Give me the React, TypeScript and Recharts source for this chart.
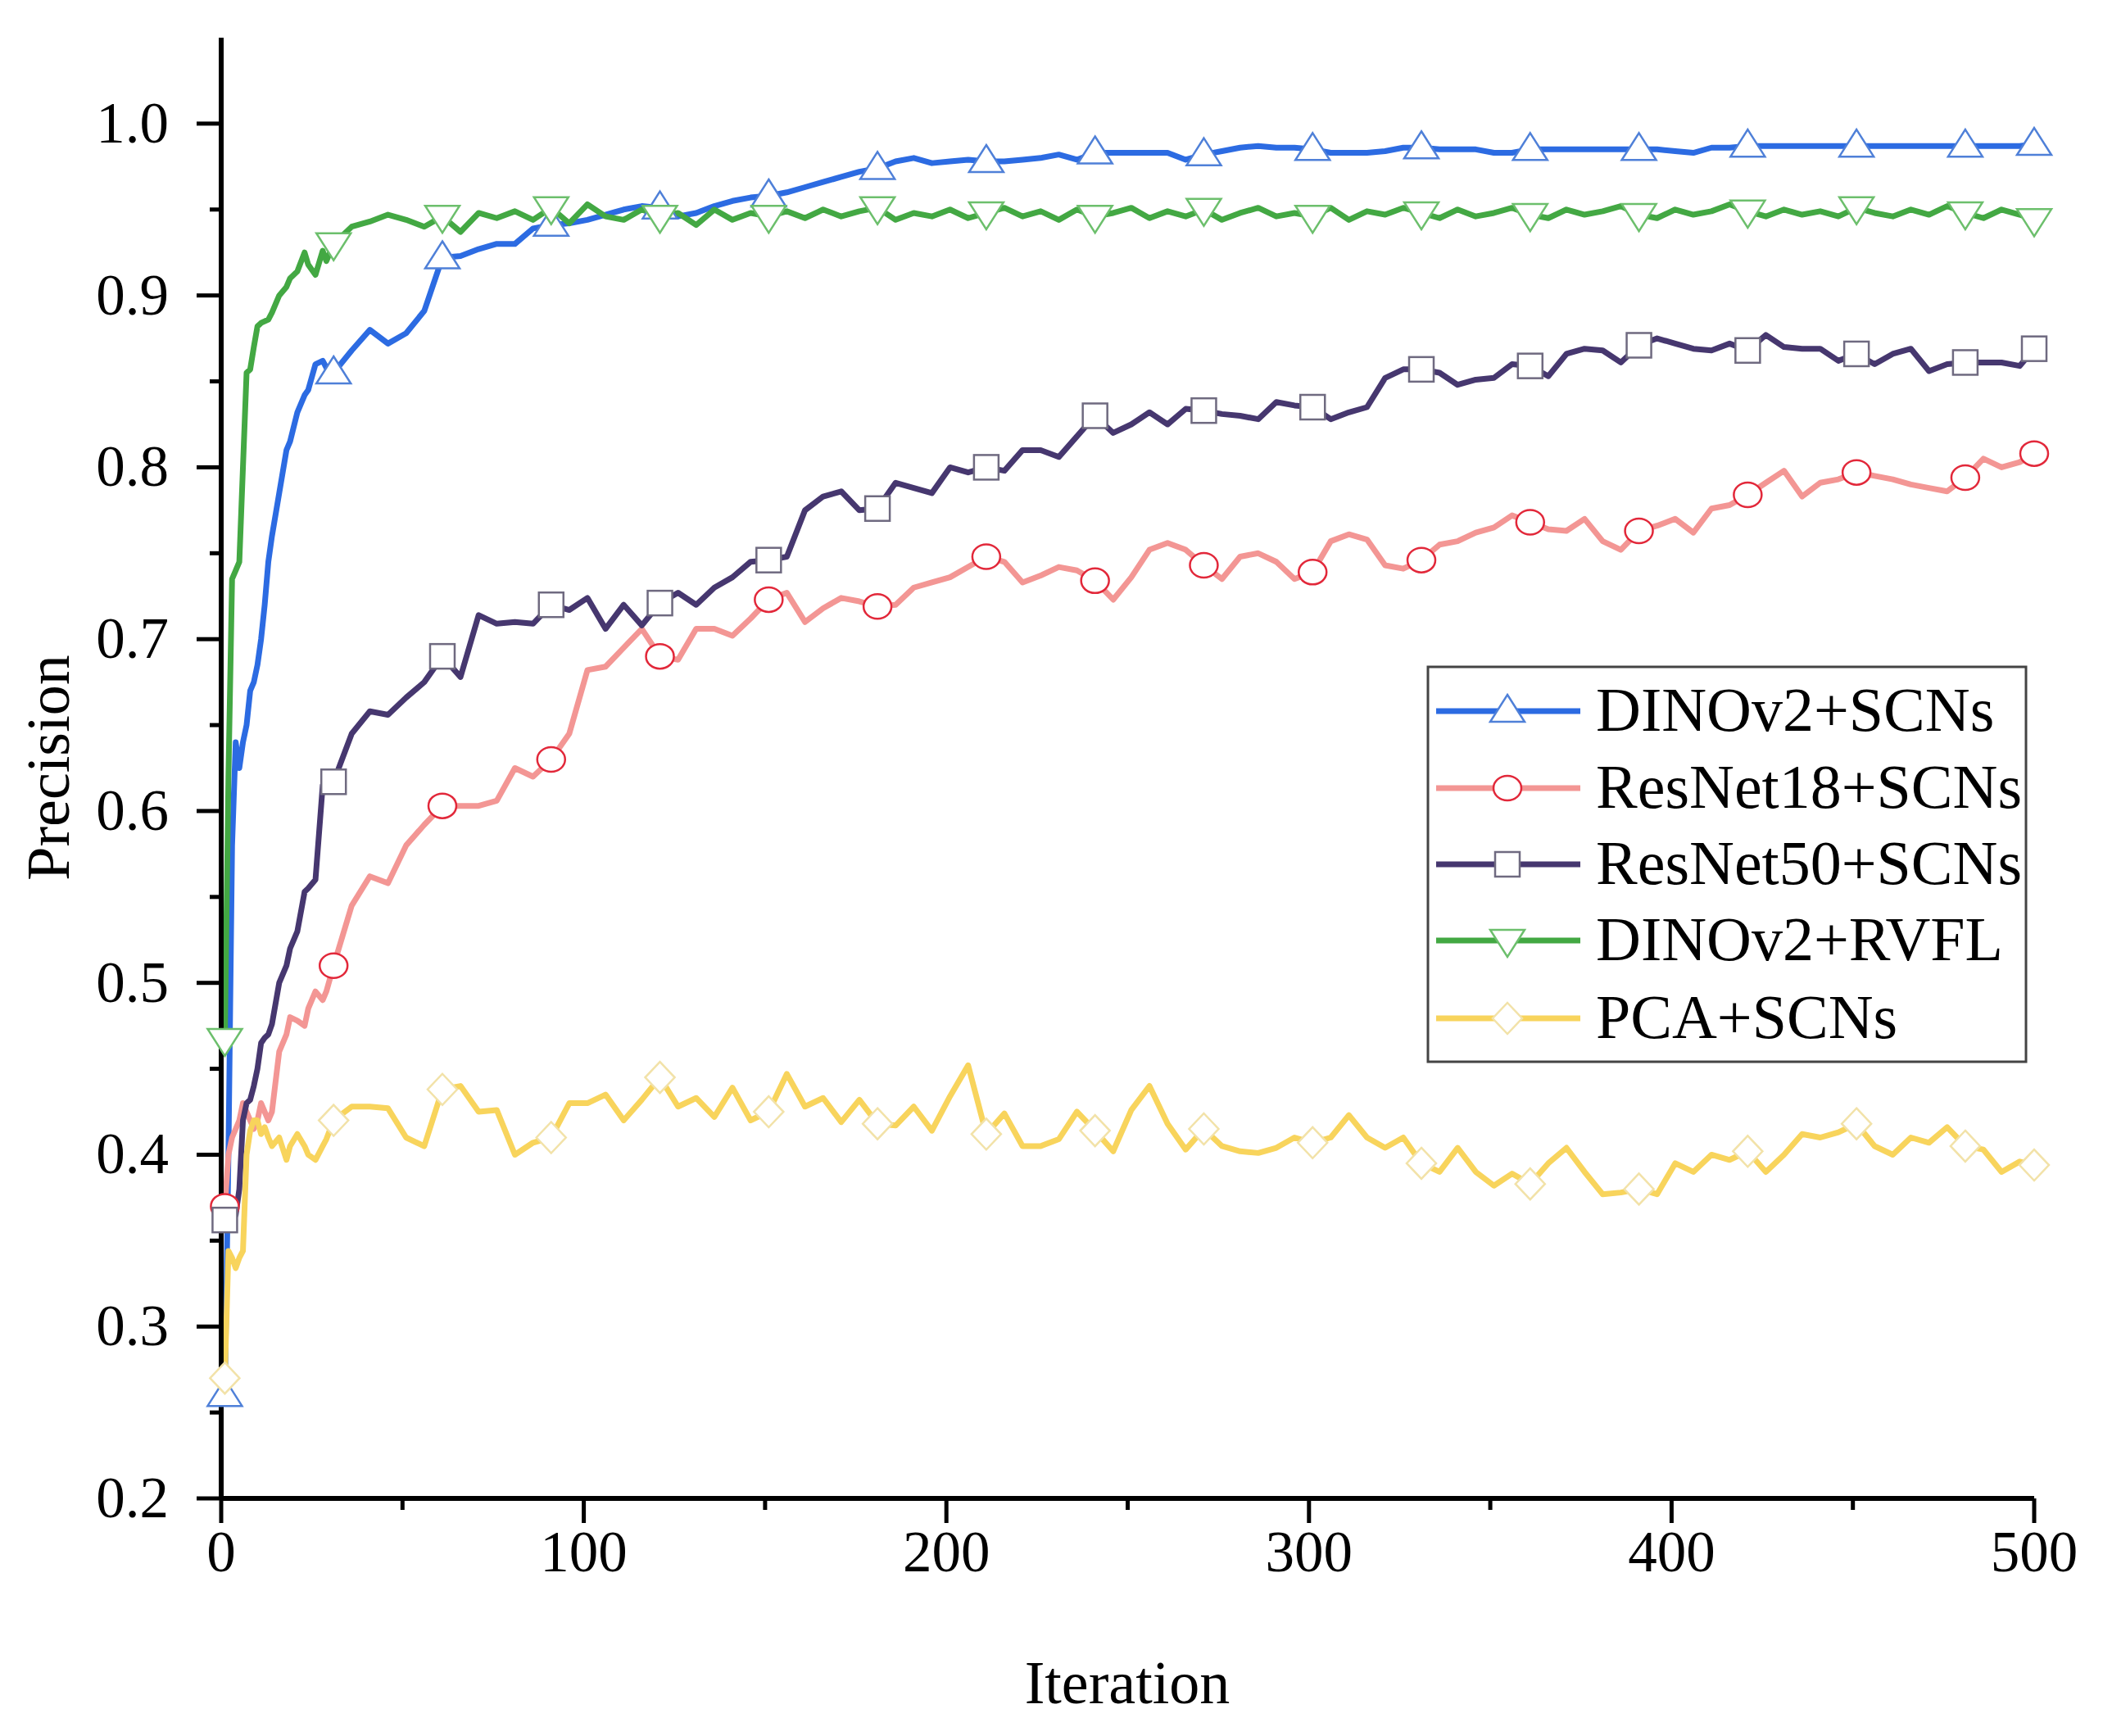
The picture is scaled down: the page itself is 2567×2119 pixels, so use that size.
import { LineChart, Line, XAxis, YAxis } from 'recharts'

const W = 2567
const H = 2119
const FONT = "'Liberation Serif', 'Times New Roman', serif"

// iteration grid (denser at the start where curves climb fast)
const iterations = [
  1, 2, 3, 4, 5, 6, 7, 8, 9, 10, 11, 12, 13, 14, 16, 18, 19, 21, 23, 24, 26, 28, 29,
  31, 36, 41, 46, 51, 56, 61, 66, 71, 76,
  81, 86, 91, 96, 101, 106, 111, 116, 121, 126,
  131, 136, 141, 146, 151, 156, 161, 166, 171, 176,
  181, 186, 191, 196, 201, 206, 211, 216, 221, 226,
  231, 236, 241, 246, 251, 256, 261, 266, 271, 276,
  281, 286, 291, 296, 301, 306, 311, 316, 321, 326,
  331, 336, 341, 346, 351, 356, 361, 366, 371, 376,
  381, 386, 391, 396, 401, 406, 411, 416, 421, 426,
  431, 436, 441, 446, 451, 456, 461, 466, 471, 476,
  481, 486, 491, 496, 500,
]

const markerIters = [1, 31, 61, 91, 121, 151, 181, 211, 241, 271, 301, 331, 361, 391, 421, 451, 481, 500]

const dinoScns = [
  0.26, 0.40, 0.58, 0.64, 0.625, 0.64, 0.65, 0.67, 0.675, 0.685, 0.70, 0.72, 0.745, 0.76, 0.785, 0.81, 0.815, 0.832, 0.842, 0.845, 0.86, 0.862, 0.858,
  0.855, 0.868, 0.88, 0.872, 0.878, 0.891, 0.922, 0.923, 0.927, 0.93,
  0.93, 0.939, 0.941, 0.942, 0.944, 0.947, 0.95, 0.952, 0.951, 0.946,
  0.948, 0.952, 0.955, 0.957, 0.958, 0.96, 0.963, 0.966, 0.969, 0.972,
  0.974, 0.978, 0.98, 0.977, 0.978, 0.979, 0.978, 0.978, 0.979, 0.98,
  0.982, 0.979, 0.983, 0.983, 0.983, 0.983, 0.983, 0.979, 0.982, 0.984,
  0.986, 0.987, 0.986, 0.986, 0.985, 0.983, 0.983, 0.983, 0.984, 0.986,
  0.986, 0.985, 0.985, 0.985, 0.983, 0.983, 0.985, 0.985, 0.985, 0.985,
  0.985, 0.985, 0.985, 0.985, 0.984, 0.983, 0.986, 0.986, 0.987, 0.987,
  0.987, 0.987, 0.987, 0.987, 0.987, 0.987, 0.987, 0.987, 0.987, 0.987,
  0.987, 0.987, 0.987, 0.987, 0.988,
]

const resnet18 = [
  0.37, 0.40, 0.41, 0.415, 0.42, 0.43, 0.425, 0.42, 0.415, 0.42, 0.43, 0.425, 0.42, 0.425, 0.46, 0.47, 0.48, 0.478, 0.475, 0.485, 0.495, 0.49, 0.495,
  0.51, 0.545, 0.562, 0.558, 0.58, 0.592, 0.603, 0.603, 0.603, 0.606,
  0.625, 0.62, 0.63, 0.645, 0.682, 0.684, 0.695, 0.706, 0.69, 0.688,
  0.706, 0.706, 0.702, 0.712, 0.723, 0.727, 0.71, 0.718, 0.724, 0.722,
  0.719, 0.72, 0.73, 0.733, 0.736, 0.742, 0.748, 0.745, 0.733, 0.737,
  0.742, 0.74, 0.734, 0.723, 0.736, 0.752, 0.756, 0.752, 0.743, 0.735,
  0.748, 0.75, 0.745, 0.735, 0.739, 0.757, 0.761, 0.758, 0.743, 0.741,
  0.746, 0.755, 0.757, 0.762, 0.765, 0.772, 0.768, 0.764, 0.763, 0.77,
  0.757, 0.752, 0.763, 0.766, 0.77, 0.762, 0.776, 0.778, 0.784, 0.791,
  0.798, 0.783, 0.791, 0.793, 0.797, 0.795, 0.793, 0.79, 0.788, 0.786,
  0.794, 0.805, 0.8, 0.803, 0.808,
]

const resnet50 = [
  0.362, 0.37, 0.36, 0.365, 0.38, 0.42, 0.43, 0.432, 0.44, 0.45, 0.465, 0.468, 0.47, 0.476, 0.50, 0.51, 0.52, 0.53, 0.553, 0.555, 0.56, 0.615, 0.618,
  0.617, 0.645, 0.658, 0.656, 0.666, 0.675, 0.69, 0.678, 0.714, 0.709,
  0.71, 0.709, 0.72, 0.717, 0.724, 0.706, 0.72, 0.708, 0.721, 0.727,
  0.72, 0.73, 0.736, 0.745, 0.746, 0.748, 0.775, 0.783, 0.786, 0.775,
  0.776, 0.791, 0.788, 0.785, 0.8, 0.797, 0.8, 0.798, 0.81, 0.81,
  0.806, 0.818, 0.83, 0.82, 0.825, 0.832, 0.825, 0.834, 0.833, 0.831,
  0.83, 0.828, 0.838, 0.836, 0.835, 0.828, 0.832, 0.835, 0.852, 0.857,
  0.857, 0.855, 0.848, 0.851, 0.852, 0.86, 0.859, 0.853, 0.866, 0.869,
  0.868, 0.861, 0.871, 0.875, 0.872, 0.869, 0.868, 0.872, 0.868, 0.877,
  0.87, 0.869, 0.869, 0.862, 0.866, 0.86, 0.866, 0.869, 0.856, 0.86,
  0.861, 0.861, 0.861, 0.859, 0.869,
]

const dinoRvfl = [
  0.467, 0.62, 0.735, 0.74, 0.745, 0.80, 0.855, 0.857, 0.87, 0.882, 0.884, 0.885, 0.886, 0.89, 0.90, 0.905, 0.91, 0.914, 0.925, 0.918, 0.912, 0.926, 0.92,
  0.93, 0.94, 0.943, 0.947, 0.944, 0.94, 0.946, 0.937, 0.948, 0.945,
  0.949, 0.944, 0.951, 0.942, 0.953, 0.946, 0.944, 0.95, 0.946, 0.948,
  0.941, 0.95, 0.944, 0.948, 0.946, 0.949, 0.945, 0.95, 0.946, 0.949,
  0.951, 0.944, 0.948, 0.946, 0.95, 0.945, 0.948, 0.951, 0.946, 0.949,
  0.944, 0.95, 0.946, 0.948, 0.951, 0.945, 0.949, 0.946, 0.95, 0.944,
  0.948, 0.951, 0.946, 0.948, 0.946, 0.951, 0.944, 0.949, 0.947, 0.951,
  0.948, 0.945, 0.95, 0.946, 0.948, 0.951, 0.947, 0.945, 0.95, 0.947,
  0.949, 0.952, 0.947, 0.945, 0.95, 0.947, 0.949, 0.953, 0.949, 0.946,
  0.95, 0.947, 0.949, 0.946, 0.951, 0.948, 0.946, 0.95, 0.947, 0.952,
  0.948, 0.945, 0.95, 0.947, 0.944,
]

const pcaScns = [
  0.27, 0.344, 0.34, 0.334, 0.34, 0.344, 0.40, 0.414, 0.42, 0.42, 0.412, 0.416, 0.41, 0.405, 0.41, 0.397, 0.405, 0.412, 0.405, 0.40, 0.397, 0.405, 0.409,
  0.42, 0.428, 0.428, 0.427, 0.41, 0.405, 0.438, 0.44, 0.425, 0.426,
  0.40, 0.407, 0.41, 0.43, 0.43, 0.435, 0.42, 0.432, 0.445, 0.428,
  0.433, 0.422, 0.439, 0.42, 0.425, 0.447, 0.428, 0.433, 0.419, 0.432,
  0.418, 0.417, 0.428, 0.414, 0.434, 0.452, 0.412, 0.424, 0.405, 0.405,
  0.409, 0.425, 0.414, 0.402, 0.426, 0.44, 0.418, 0.403, 0.415, 0.405,
  0.402, 0.401, 0.404, 0.41, 0.407, 0.41, 0.423, 0.41, 0.404, 0.41,
  0.395, 0.39, 0.404, 0.39, 0.382, 0.389, 0.383, 0.395, 0.404, 0.39,
  0.377, 0.378, 0.38, 0.377, 0.395, 0.39, 0.4, 0.397, 0.402, 0.39,
  0.4, 0.412, 0.41, 0.413, 0.418, 0.405, 0.4, 0.41, 0.407, 0.416,
  0.405, 0.403, 0.39, 0.396, 0.394,
]

const xTicks = [0, 50, 100, 150, 200, 250, 300, 350, 400, 450, 500]
const yTicks = [0.2, 0.25, 0.3, 0.35, 0.4, 0.45, 0.5, 0.55, 0.6, 0.65, 0.7, 0.75, 0.8, 0.85, 0.9, 0.95, 1.0]

type Shape = 'triangle' | 'circle' | 'square' | 'down' | 'diamond'

const series: { key: string; name: string; line: string; mark: string; shape: Shape }[] = [
  { key: 'dinoScns', name: 'DINOv2+SCNs', line: '#2c6be2', mark: '#4f80d8', shape: 'triangle' },
  { key: 'resnet18', name: 'ResNet18+SCNs', line: '#f39694', mark: '#e2283a', shape: 'circle' },
  { key: 'resnet50', name: 'ResNet50+SCNs', line: '#46376f', mark: '#6f6a80', shape: 'square' },
  { key: 'dinoRvfl', name: 'DINOv2+RVFL', line: '#43a843', mark: '#6cbf6c', shape: 'down' },
  { key: 'pcaScns', name: 'PCA+SCNs', line: '#f8d45c', mark: '#f2e2a8', shape: 'diamond' },
]

const rows = iterations.map((iter, i) => ({
  iter,
  dinoScns: dinoScns[i],
  resnet18: resnet18[i],
  resnet50: resnet50[i],
  dinoRvfl: dinoRvfl[i],
  pcaScns: pcaScns[i],
}))

function Marker({ shape, cx, cy, color }: { shape: Shape; cx: number; cy: number; color: string }) {
  const common = { fill: '#fff', stroke: color, strokeWidth: 2.5 }
  switch (shape) {
    case 'triangle':
      return <polygon points={`${cx},${cy - 20} ${cx + 21},${cy + 13} ${cx - 21},${cy + 13}`} {...common} />
    case 'down':
      return <polygon points={`${cx - 21},${cy - 13} ${cx + 21},${cy - 13} ${cx},${cy + 20}`} {...common} />
    case 'circle':
      return <ellipse cx={cx} cy={cy} rx={17} ry={15} {...common} />
    case 'square':
      return <rect x={cx - 15} y={cy - 15} width={30} height={30} {...common} />
    default:
      return <polygon points={`${cx},${cy - 19} ${cx + 18},${cy} ${cx},${cy + 19} ${cx - 18},${cy}`} {...common} />
  }
}

function XTick(props: any) {
  const { x, y, payload } = props
  const major = payload.value % 100 === 0
  return (
    <g>
      <line x1={x} x2={x} y1={y} y2={y + (major ? 30 : 14)} stroke="#000" strokeWidth={5} />
      {major && (
        <text x={x} y={y + 89} textAnchor="middle" fontSize={71} fontFamily={FONT} fill="#000">
          {payload.value}
        </text>
      )}
    </g>
  )
}

function YTick(props: any) {
  const { x, y, payload } = props
  const v: number = payload.value
  const major = Math.abs(v * 10 - Math.round(v * 10)) < 1e-6
  return (
    <g>
      <line x1={x} x2={x - (major ? 30 : 14)} y1={y} y2={y} stroke="#000" strokeWidth={5} />
      {major && (
        <text x={x - 64} y={y + 23} textAnchor="end" fontSize={71} fontFamily={FONT} fill="#000">
          {v.toFixed(1)}
        </text>
      )}
    </g>
  )
}

function LegendBox() {
  const left = 1743
  const top = 814
  const rowY = [54, 148, 241, 334, 429]
  return (
    <g>
      <rect x={left} y={top} width={730} height={482} fill="#fff" stroke="#444" strokeWidth={3} />
      {series.map((s, i) => {
        const cy = top + rowY[i]
        return (
          <g key={s.key}>
            <line x1={left + 10} x2={left + 186} y1={cy} y2={cy} stroke={s.line} strokeWidth={7} />
            <Marker shape={s.shape} cx={left + 97} cy={cy} color={s.mark} />
            <text x={left + 205} y={cy + 24} fontSize={76} fontFamily={FONT} fill="#000">
              {s.name}
            </text>
          </g>
        )
      })}
    </g>
  )
}

export default function App() {
  return (
    <div style={{ position: 'relative', width: W, height: H, background: '#fff' }}>
      <style>{'body{margin:0}'}</style>
      <LineChart width={W} height={H} data={rows} margin={{ top: 46, right: 84, bottom: 0, left: 0 }}>
        <XAxis
          type="number"
          dataKey="iter"
          domain={[0, 500]}
          ticks={xTicks}
          interval={0}
          height={290}
          tickSize={0}
          tickMargin={0}
          tickLine={false}
          tick={<XTick />}
          axisLine={{ stroke: '#000', strokeWidth: 6 }}
        />
        <YAxis
          type="number"
          domain={[0.2, 1.05]}
          ticks={yTicks}
          interval={0}
          width={270}
          tickSize={0}
          tickMargin={0}
          tickLine={false}
          tick={<YTick />}
          axisLine={{ stroke: '#000', strokeWidth: 6 }}
        />
        {series.map((s) => (
          <Line
            key={s.key}
            type="linear"
            dataKey={s.key}
            name={s.name}
            stroke={s.line}
            strokeWidth={7}
            strokeLinejoin="round"
            isAnimationActive={false}
            activeDot={false}
            dot={(p: any) =>
              markerIters.includes(p.payload.iter) ? (
                <g key={`${s.key}-${p.index}`}>
                  <Marker shape={s.shape} cx={p.cx} cy={p.cy} color={s.mark} />
                </g>
              ) : (
                <g key={`${s.key}-${p.index}`} />
              )
            }
          />
        ))}
      </LineChart>
      <svg width={W} height={H} style={{ position: 'absolute', left: 0, top: 0, pointerEvents: 'none' }}>
        <text x={1376} y={2079} textAnchor="middle" fontSize={74} fontFamily={FONT} fill="#000">
          Iteration
        </text>
        <text
          x={0}
          y={0}
          transform="translate(84,937) rotate(-90)"
          textAnchor="middle"
          fontSize={74}
          fontFamily={FONT}
          fill="#000"
        >
          Precision
        </text>
        <LegendBox />
      </svg>
    </div>
  )
}
